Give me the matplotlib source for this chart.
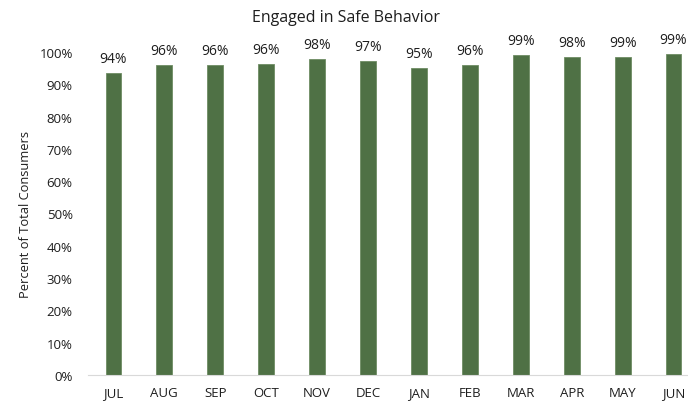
import matplotlib
matplotlib.use("Agg")
import matplotlib.pyplot as plt

months = ["JUL", "AUG", "SEP", "OCT", "NOV", "DEC", "JAN", "FEB", "MAR", "APR", "MAY", "JUN"]
values = [0.936, 0.960, 0.960, 0.964, 0.978, 0.973, 0.952, 0.960, 0.990, 0.984, 0.986, 0.994]
yticks = [0.0, 0.1, 0.2, 0.3, 0.4, 0.5, 0.6, 0.7, 0.8, 0.9, 1.0]
title = "Engaged in Safe Behavior"
ylabel = "Percent of Total Consumers"

plt.rcParams['font.family'] = ['Open Sans', 'DejaVu Sans']
txt = "#1E1E1E"

fig = plt.figure(figsize=(6.88, 4.02), dpi=100)
ax = fig.add_axes([88/688, 1-376/402, (699-88)/688, (376-53)/402])

x = list(range(len(months)))
ax.bar(x, values, width=0.31, color="#4F7145", edgecolor="#6E8C64", linewidth=0.6)
for xi, v in zip(x, values):
    ax.annotate(f"{v:.0%}", (xi, v), xytext=(0, 5), textcoords="offset points",
                ha="center", va="bottom", fontsize=10, color=txt, clip_on=False)

ax.set_xlim(-0.5, len(months) - 0.5)
ax.set_ylim(0, 1.0)
ax.set_yticks(yticks)
ax.set_yticklabels([f"{t:.0%}" for t in yticks], fontsize=9.5, color=txt)
ax.set_xticks(x)
ax.set_xticklabels(months, fontsize=9.5, color=txt)
ax.tick_params(axis="both", length=0)
ax.tick_params(axis="x", pad=8)
ax.tick_params(axis="y", pad=11)
for s in ["top", "right", "left"]:
    ax.spines[s].set_visible(False)
ax.spines["bottom"].set_color("#D9D9D9")
ax.set_ylabel(ylabel, fontsize=9.3, color=txt, labelpad=5)
fig.text(346/688, 1-18/402, title, ha="center", va="center", fontsize=11.5, color=txt)

fig.savefig("out.png", dpi=100)
